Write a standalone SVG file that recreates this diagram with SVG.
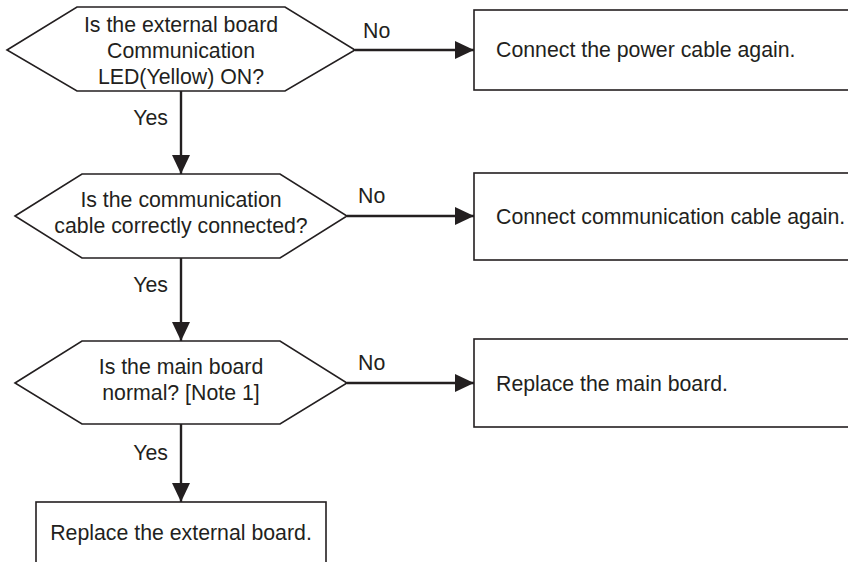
<svg xmlns="http://www.w3.org/2000/svg" width="848" height="562" viewBox="0 0 848 562">
<defs>
<marker id="arr" markerUnits="userSpaceOnUse" markerWidth="20" markerHeight="18" refX="19" refY="9" orient="auto">
<path d="M0,0 L19,9 L0,18 Z" fill="#231f20"/>
</marker>
<style>
.shape{fill:#fff;stroke:#231f20;stroke-width:1.6}
.conn{stroke:#231f20;stroke-width:2.4;fill:none}
text{font-family:"Liberation Sans",Arial,sans-serif;font-size:21.3px;fill:#231f20}
.c{text-anchor:middle}
.e{text-anchor:end}
</style>
</defs>
<rect width="848" height="562" fill="#fff"/>
<g id="d1">
<polygon class="shape" points="7,50 77,7 285,7 355,50 285,91 77,91"/>
<text class="c" x="181" y="32">Is the external board</text>
<text class="c" x="181" y="58">Communication</text>
<text class="c" x="181" y="84">LED(Yellow) ON?</text>
</g>
<g id="b1">
<rect class="shape" x="474" y="10" width="390" height="80"/>
<text x="496" y="57">Connect the power cable again.</text>
</g>
<g id="d2">
<polygon class="shape" points="15,216 82,174 280,174 347,216 280,258 82,258"/>
<text class="c" x="181" y="207">Is the communication</text>
<text class="c" x="181" y="233">cable correctly connected?</text>
</g>
<g id="b2">
<rect class="shape" x="474" y="173" width="390" height="87"/>
<text x="496" y="224">Connect communication cable again.</text>
</g>
<g id="d3">
<polygon class="shape" points="15,383 82,341 280,341 347,383 280,424 82,424"/>
<text class="c" x="181" y="374">Is the main board</text>
<text class="c" x="181" y="400">normal? [Note 1]</text>
</g>
<g id="b3">
<rect class="shape" x="474" y="339" width="390" height="88"/>
<text x="496" y="391">Replace the main board.</text>
</g>
<g id="b4">
<rect class="shape" x="36" y="502" width="290" height="80"/>
<text class="c" x="181" y="540">Replace the external board.</text>
</g>
<g id="connectors">
<line class="conn" x1="355" y1="50" x2="474" y2="50" marker-end="url(#arr)"/>
<line class="conn" x1="181" y1="91" x2="181" y2="174" marker-end="url(#arr)"/>
<line class="conn" x1="347" y1="216" x2="474" y2="216" marker-end="url(#arr)"/>
<line class="conn" x1="181" y1="258" x2="181" y2="341" marker-end="url(#arr)"/>
<line class="conn" x1="347" y1="383" x2="474" y2="383" marker-end="url(#arr)"/>
<line class="conn" x1="181" y1="424" x2="181" y2="502" marker-end="url(#arr)"/>
<text x="363" y="38">No</text>
<text x="358" y="203">No</text>
<text x="358" y="370">No</text>
<text class="e" x="168" y="125">Yes</text>
<text class="e" x="168" y="292">Yes</text>
<text class="e" x="168" y="460">Yes</text>
</g>
</svg>
